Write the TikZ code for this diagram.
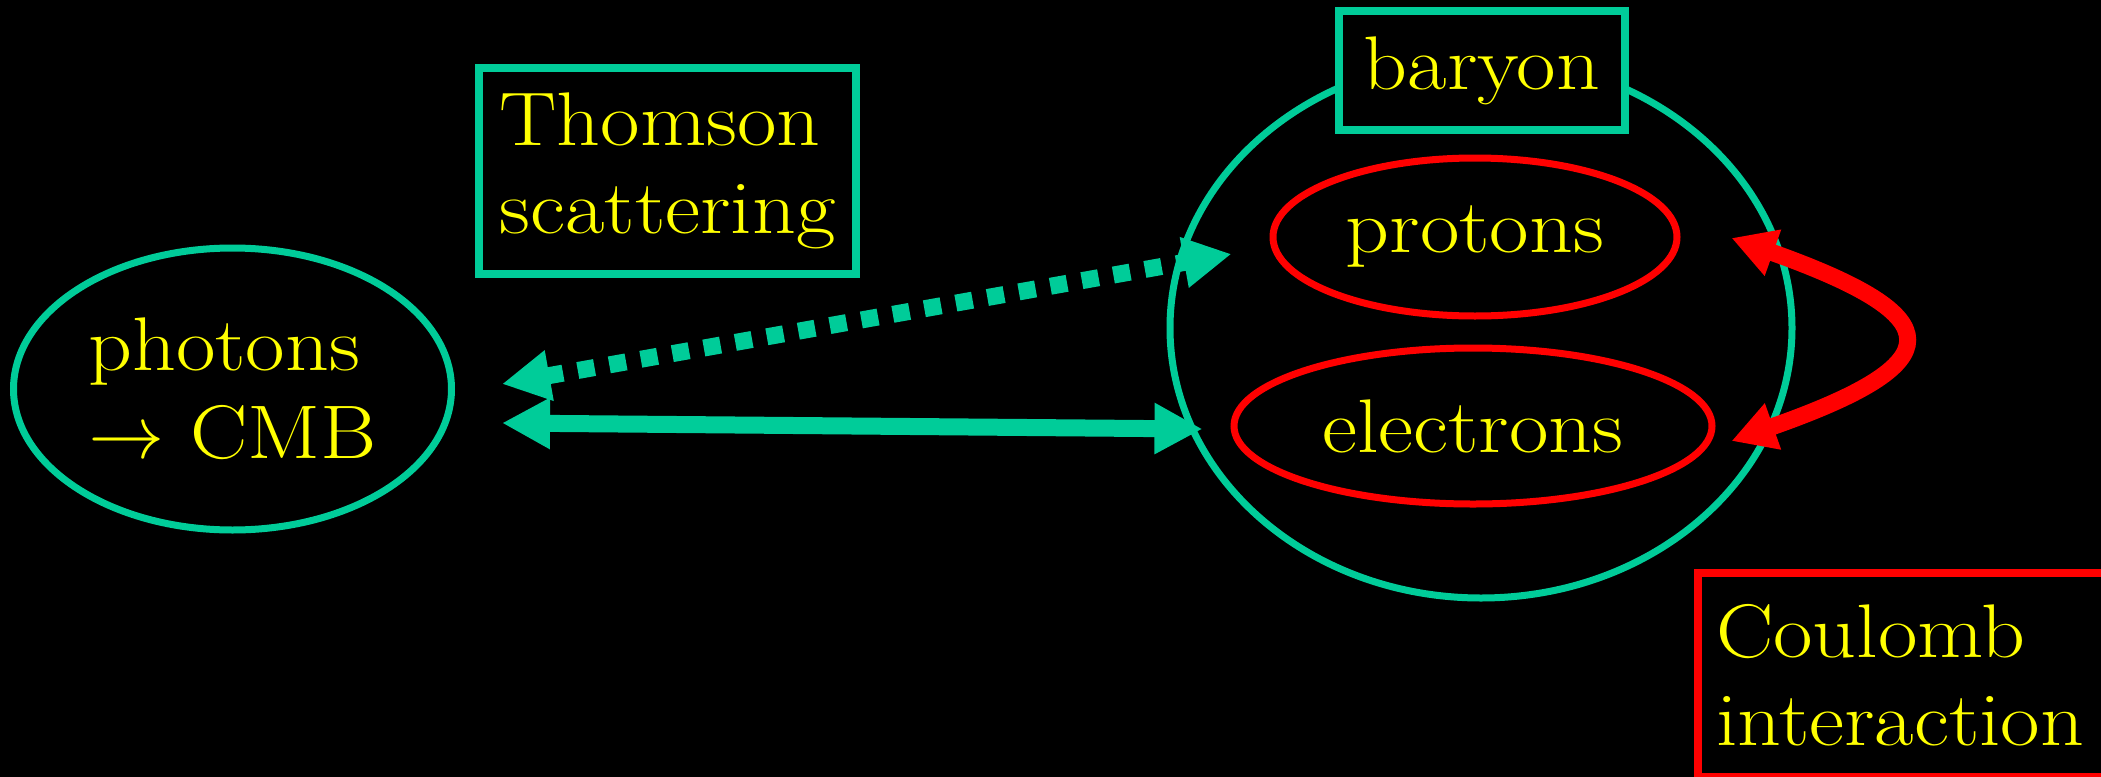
\documentclass[tikz,border=0pt]{standalone}
\usepackage{fontspec}
\usepackage{unicode-math}
\setmainfont{Latin Modern Roman}[FakeStretch=1.13]
\usetikzlibrary{arrows.meta,shapes.geometric,calc}
\definecolor{cmbgreen}{RGB}{0,204,153}
\definecolor{labelyellow}{RGB}{255,255,0}
\tikzset{
  bigtip/.tip={Triangle[length=24pt,width=24pt]},
  redtip/.tip={Triangle[length=22pt,width=23pt]},
  txt/.style={text=labelyellow, font=\fontsize{38}{44}\selectfont},
  bubble/.style={ellipse, draw=cmbgreen, line width=3.5pt, inner sep=0pt, txt},
  particle/.style={ellipse, draw=red, line width=3.5pt, inner sep=0pt, txt},
  labelbox/.style={rectangle, line width=4pt, fill=black, inner sep=0pt, align=left, txt},
  greenarrow/.style={draw=cmbgreen, line width=8.5pt, bigtip-bigtip},
  redarrow/.style={draw=red, line width=8.5pt, redtip-redtip},
}
\begin{document}
\begin{tikzpicture}[x=0.5pt,y=-0.5pt]
  \useasboundingbox (0,0) rectangle (2101,777);
  \clip (0,0) rectangle (2101,777);
  \fill[black] (0,0) rectangle (2101,777);

  % photon fluid
  \node[bubble, minimum width=219pt, minimum height=141pt, align=left]
    (photons) at (232.5,389) {photons\\$\rightarrow$ CMB};

  % interaction labels
  \node[labelbox, draw=cmbgreen, minimum width=188.5pt, minimum height=103pt]
    (thomson) at (667.5,171) {Thomson\\scattering};

  % baryon fluid with its constituents
  \node[bubble, minimum width=311pt, minimum height=270pt] (baryon) at (1481,328) {};
  \node[labelbox, draw=cmbgreen, minimum width=143pt, minimum height=59.5pt]
    (baryonlabel) at (1482,70.5) {baryon};
  \node[particle, minimum width=202pt, minimum height=79pt] (protons) at (1475,237) {protons};
  \node[particle, minimum width=239pt, minimum height=78pt] (electrons) at (1473,426) {electrons};

  \node[labelbox, draw=red, anchor=north west, minimum height=102pt,
        text width=215pt, inner xsep=9pt]
    (coulomb) at (1694,569) {Coulomb\\interaction};

  % couplings
  \draw[greenarrow, dash pattern=on 8.5pt off 7.5pt]
    ($(photons.east)+(47,-5)$) -- ($(protons.west)+(-38,17)$);
  \draw[greenarrow]
    ($(photons.east)+(47,34)$) -- ($(electrons.west)+(-28,3)$);
  \draw[redarrow]
    ($(protons.east)+(51,1)$) .. controls ($(protons.east)+(273,80)$)
    and ($(electrons.east)+(238,-63)$) .. ($(electrons.east)+(16,15)$);
\end{tikzpicture}
\end{document}
